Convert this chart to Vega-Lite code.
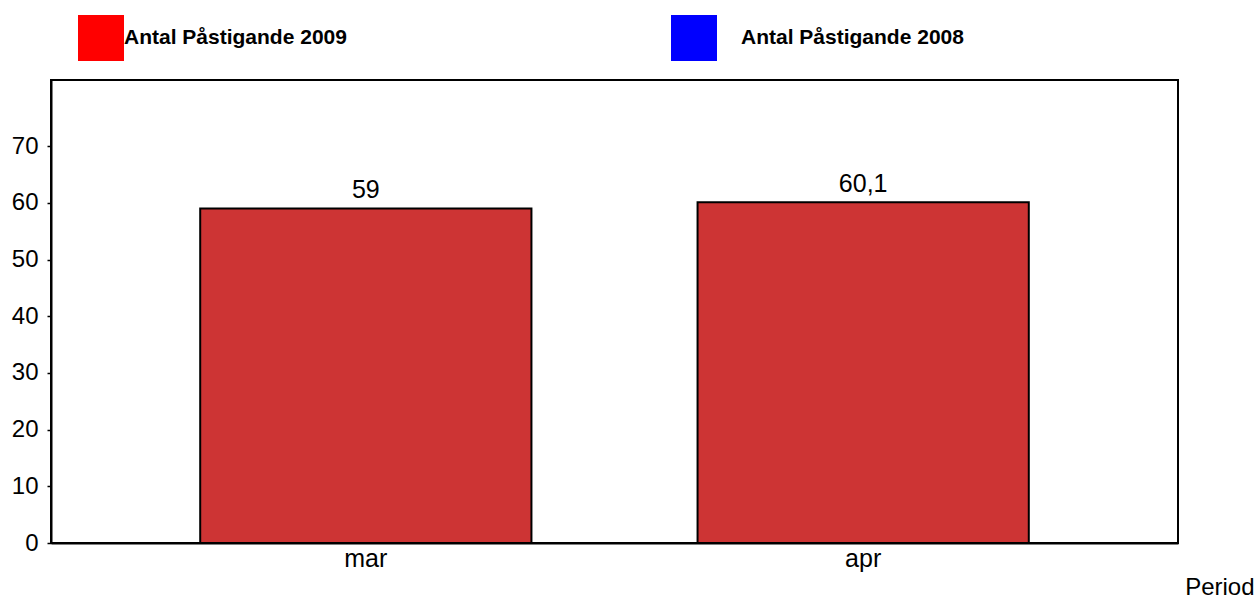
{
  "$schema": "https://vega.github.io/schema/vega-lite/v6.json",
  "autosize": {"type": "none"},
  "width": 1127,
  "height": 463,
  "padding": {"left": 51, "top": 80, "right": 80, "bottom": 58},
  "background": "white",
  "config": {
    "font": "Liberation Sans",
    "view": {"stroke": "black", "strokeWidth": 2},
    "locale": {"number": {"decimal": ",", "thousands": " ", "grouping": [3], "currency": ["", " kr"]}}
  },
  "data": {
    "values": [
      {"period": "mar", "series": "Antal Påstigande 2009", "value": 59},
      {"period": "apr", "series": "Antal Påstigande 2009", "value": 60.1}
    ]
  },
  "encoding": {
    "x": {
      "field": "period", "type": "nominal", "sort": ["mar", "apr"],
      "scale": {"paddingInner": 0.334, "paddingOuter": 0.3},
      "axis": {
        "title": "Period", "titleFont": "Liberation Sans", "titleFontSize": 24, "titleFontWeight": "normal", "titleColor": "black",
        "titleAlign": "right", "titleAnchor": null, "titleX": 1203, "titleY": 51, "titleBaseline": "alphabetic",
        "labelAngle": 0, "labelFontSize": 25, "labelColor": "black", "labelPadding": 3,
        "ticks": false, "domainColor": "black", "domainWidth": 2
      }
    },
    "y": {
      "field": "value", "type": "quantitative",
      "scale": {"domain": [0, 81.66], "nice": false},
      "axis": {
        "title": null, "values": [0, 10, 20, 30, 40, 50, 60, 70], "grid": false,
        "labelFontSize": 24, "labelColor": "black", "labelPadding": 9,
        "tickSize": 4, "tickColor": "black", "tickWidth": 1.5,
        "domainColor": "black", "domainWidth": 2
      }
    }
  },
  "layer": [
    {
      "mark": {"type": "bar", "fill": "#CD3434", "stroke": "black", "strokeWidth": 2}
    },
    {
      "mark": {"type": "point", "shape": "square", "filled": true, "size": 0, "opacity": 1, "strokeWidth": 0},
      "encoding": {
        "fill": {
          "field": "series", "type": "nominal",
          "scale": {"domain": ["Antal Påstigande 2009", "Antal Påstigande 2008"], "range": ["#FF0000", "#0000FF"]},
          "legend": {
            "title": null, "orient": "none", "direction": "horizontal", "columns": 2,
            "legendX": 27, "legendY": -65,
            "symbolType": "square", "symbolSize": 2116, "symbolStrokeWidth": 0, "symbolOpacity": 1,
            "labelFontSize": 21, "labelFontWeight": "bold", "labelColor": "black", "labelOffset": 0,
            "labelLimit": 400, "columnPadding": 324,
            "encode": {"labels": {"update": {"dx": {"signal": "datum.value === 'Antal Påstigande 2008' ? 24 : 0"}}}}
          }
        }
      }
    },
    {
      "mark": {"type": "text", "fontSize": 25, "baseline": "alphabetic", "dy": -10, "color": "black"},
      "encoding": {
        "text": {"field": "value", "type": "quantitative", "format": "~g"}
      }
    }
  ]
}
